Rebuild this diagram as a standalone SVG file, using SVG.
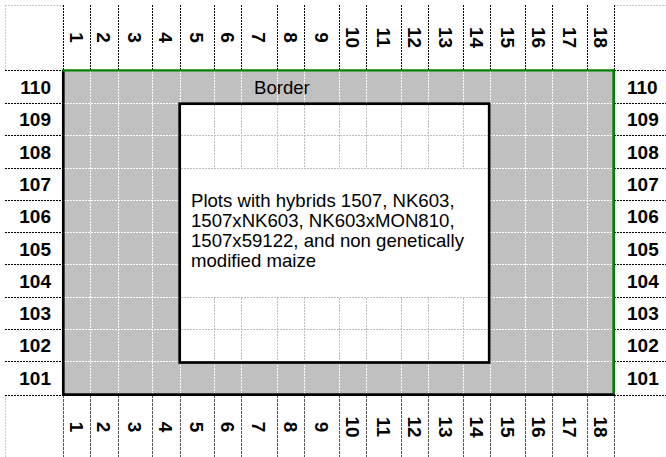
<svg xmlns="http://www.w3.org/2000/svg" width="666" height="457" viewBox="0 0 666 457">
<style>
.hdr{stroke:#000;stroke-width:1;stroke-dasharray:2 1;fill:none}
.hdrb{stroke:#555;stroke-width:1;stroke-dasharray:3 1;fill:none}
.corner{stroke:#c8c8c8;stroke-width:1;stroke-dasharray:2 1;fill:none}
.wg{stroke:#fff;stroke-width:1;stroke-dasharray:2 1;fill:none}
.gg{stroke:#bdbdbd;stroke-width:1;stroke-dasharray:2 1;fill:none}
.lab{font-family:"Liberation Sans",Arial,sans-serif;font-weight:bold;font-size:19px;fill:#000}
.txt{font-family:"Liberation Sans",Arial,sans-serif;font-size:18.6px;fill:#000}
</style>
<rect x="0" y="0" width="666" height="457" fill="#fff"/>
<g id="corners">
<path class="corner" d="M5,5.5H63M5.5,5V70M614,5.5H666M5.5,395V457"/>
</g>
<g id="header-lines">
<path class="hdr" d="M63.5,5V70M90.5,5V70M118.5,5V70M152.5,5V70M180.5,5V70M214.5,5V70M241.5,5V70M277.5,5V70M304.5,5V70M339.5,5V70M366.5,5V70M401.5,5V70M428.5,5V70M463.5,5V70M490.5,5V70M525.5,5V70M552.5,5V70M587.5,5V70M614.5,5V70"/>
<path class="hdrb" d="M63.5,395V457M90.5,395V457M118.5,395V457M152.5,395V457M180.5,395V457M214.5,395V457M241.5,395V457M277.5,395V457M304.5,395V457M339.5,395V457M366.5,395V457M401.5,395V457M428.5,395V457M463.5,395V457M490.5,395V457M525.5,395V457M552.5,395V457M587.5,395V457M614.5,395V457"/>
<path class="hdr" d="M5,70.5H63M5,103.5H63M5,135.5H63M5,168.5H63M5,200.5H63M5,232.5H63M5,264.5H63M5,297.5H63M5,329.5H63M5,361.5H63M5,395.5H63"/>
<path class="hdr" d="M614,70.5H666M614,103.5H666M614,135.5H666M614,168.5H666M614,200.5H666M614,232.5H666M614,264.5H666M614,297.5H666M614,329.5H666M614,361.5H666M614,395.5H666"/>
</g>
<g id="field">
<rect x="63" y="70" width="551" height="325" fill="#c0c0c0"/>
<path class="wg" d="M90.5,71V394M118.5,71V394M152.5,71V394M180.5,71V394M214.5,71V394M241.5,71V394M277.5,71V394M304.5,71V394M339.5,71V394M366.5,71V394M401.5,71V394M428.5,71V394M463.5,71V394M490.5,71V394M525.5,71V394M552.5,71V394M587.5,71V394"/>
<path class="wg" d="M64,103.5H613M64,135.5H613M64,168.5H613M64,200.5H613M64,232.5H613M64,264.5H613M64,297.5H613M64,329.5H613M64,361.5H613"/>
</g>
<g id="plots">
<rect x="179.7" y="103.7" width="309.5" height="258.8" fill="#fff"/>
<path class="gg" d="M214.5,105V167M241.5,105V167M277.5,105V167M304.5,105V167M339.5,105V167M366.5,105V167M401.5,105V167M428.5,105V167M463.5,105V167M214.5,298V361M241.5,298V361M277.5,298V361M304.5,298V361M339.5,298V361M366.5,298V361M401.5,298V361M428.5,298V361M463.5,298V361"/>
<path class="gg" d="M181,135.5H488M181,168.5H488M181,297.5H488M181,329.5H488"/>
<rect x="179.7" y="103.7" width="309.5" height="258.8" fill="none" stroke="#000" stroke-width="2.7"/>
<text class="txt" x="191" y="206.7">Plots with hybrids 1507, NK603,</text>
<text class="txt" x="191" y="226.7">1507xNK603, NK603xMON810,</text>
<text class="txt" x="191" y="246.7">1507x59122, and non genetically</text>
<text class="txt" x="191" y="266.7">modified maize</text>
</g>
<g id="border">
<line x1="63.3" y1="70" x2="63.3" y2="396" stroke="#000" stroke-width="2.7"/>
<line x1="62" y1="394.7" x2="615" y2="394.7" stroke="#000" stroke-width="2.7"/>
<line x1="613.7" y1="69.5" x2="613.7" y2="393.5" stroke="#008000" stroke-width="2.7"/>
<line x1="62" y1="70.3" x2="615" y2="70.3" stroke="#008000" stroke-width="2.2"/>
<text class="txt" x="254" y="94">Border</text>
</g>
<g id="column-labels-top" class="lab" text-anchor="middle">
<text transform="translate(69.7,37.5) rotate(90)">1</text>
<text transform="translate(97.2,37.5) rotate(90)">2</text>
<text transform="translate(128.2,37.5) rotate(90)">3</text>
<text transform="translate(159.2,37.5) rotate(90)">4</text>
<text transform="translate(190.2,37.5) rotate(90)">5</text>
<text transform="translate(220.7,37.5) rotate(90)">6</text>
<text transform="translate(252.2,37.5) rotate(90)">7</text>
<text transform="translate(283.7,37.5) rotate(90)">8</text>
<text transform="translate(314.7,37.5) rotate(90)">9</text>
<text transform="translate(345.7,37.5) rotate(90)">10</text>
<text transform="translate(376.7,37.5) rotate(90)">11</text>
<text transform="translate(407.7,37.5) rotate(90)">12</text>
<text transform="translate(438.7,37.5) rotate(90)">13</text>
<text transform="translate(469.7,37.5) rotate(90)">14</text>
<text transform="translate(500.7,37.5) rotate(90)">15</text>
<text transform="translate(531.7,37.5) rotate(90)">16</text>
<text transform="translate(562.7,37.5) rotate(90)">17</text>
<text transform="translate(593.7,37.5) rotate(90)">18</text>
</g>
<g id="column-labels-bottom" class="lab" text-anchor="middle">
<text transform="translate(69.7,427) rotate(90)">1</text>
<text transform="translate(97.2,427) rotate(90)">2</text>
<text transform="translate(128.2,427) rotate(90)">3</text>
<text transform="translate(159.2,427) rotate(90)">4</text>
<text transform="translate(190.2,427) rotate(90)">5</text>
<text transform="translate(220.7,427) rotate(90)">6</text>
<text transform="translate(252.2,427) rotate(90)">7</text>
<text transform="translate(283.7,427) rotate(90)">8</text>
<text transform="translate(314.7,427) rotate(90)">9</text>
<text transform="translate(345.7,427) rotate(90)">10</text>
<text transform="translate(376.7,427) rotate(90)">11</text>
<text transform="translate(407.7,427) rotate(90)">12</text>
<text transform="translate(438.7,427) rotate(90)">13</text>
<text transform="translate(469.7,427) rotate(90)">14</text>
<text transform="translate(500.7,427) rotate(90)">15</text>
<text transform="translate(531.7,427) rotate(90)">16</text>
<text transform="translate(562.7,427) rotate(90)">17</text>
<text transform="translate(593.7,427) rotate(90)">18</text>
</g>
<g id="row-labels-left" class="lab" text-anchor="end">
<text x="51" y="93.5">110</text>
<text x="51" y="126.3">109</text>
<text x="51" y="158.8">108</text>
<text x="51" y="191">107</text>
<text x="51" y="223.3">106</text>
<text x="51" y="255.5">105</text>
<text x="51" y="287.8">104</text>
<text x="51" y="320">103</text>
<text x="51" y="352">102</text>
<text x="51" y="385">101</text>
</g>
<g id="row-labels-right" class="lab" text-anchor="start">
<text x="627" y="93.5">110</text>
<text x="627" y="126.3">109</text>
<text x="627" y="158.8">108</text>
<text x="627" y="191">107</text>
<text x="627" y="223.3">106</text>
<text x="627" y="255.5">105</text>
<text x="627" y="287.8">104</text>
<text x="627" y="320">103</text>
<text x="627" y="352">102</text>
<text x="627" y="385">101</text>
</g>
</svg>
